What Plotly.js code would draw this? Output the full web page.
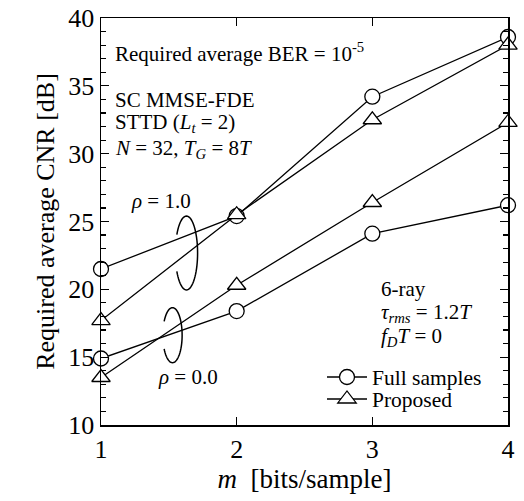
<!DOCTYPE html>
<html>
<head>
<meta charset="utf-8">
<script src="https://cdn.plot.ly/plotly-3.0.1.min.js"></script>
<style>html,body{margin:0;padding:0;background:#fff;}#chart{width:524px;height:501px;}</style>
</head>
<body>
<div id="chart"></div>
<script>
var m = [1, 2, 3, 4];
var fullRho1 = [21.5, 25.4, 34.2, 38.6];
var propRho1 = [17.7, 25.5, 32.5, 38.0];
var fullRho0 = [14.9, 18.4, 24.1, 26.2];
var propRho0 = [13.5, 20.3, 26.4, 32.3];
var seriesNames = ['Full samples', 'Proposed'];

var FONT = 'Liberation Serif';

function tr(y, sym, name, show, leg) {
  return {
    x: m, y: y, type: 'scatter', mode: 'lines+markers',
    name: name, showlegend: show, legend: leg,
    cliponaxis: false,
    line: {color: '#000', width: 1.3},
    marker: {symbol: sym, size: sym === 'circle' ? 15 : 16, color: '#fff', line: {color: '#000', width: 1.3}}
  };
}

var data = [
  tr(fullRho1, 'circle', seriesNames[0], true, 'legend'),
  tr(propRho1, 'triangle-up', seriesNames[1], true, 'legend2'),
  tr(fullRho0, 'circle', seriesNames[0], false, 'legend'),
  tr(propRho0, 'triangle-up', seriesNames[1], false, 'legend2')
];

function arcPath(cx, cy, rx, ry, a0, a1) {
  var p = '';
  var n = 60;
  for (var i = 0; i <= n; i++) {
    var a = (a0 + (a1 - a0) * i / n) * Math.PI / 180;
    var x = cx + rx * Math.cos(a), y = cy + ry * Math.sin(a);
    p += (i === 0 ? 'M ' : ' L ') + x.toFixed(4) + ',' + y.toFixed(4);
  }
  return p;
}

var shapes = [
  {type: 'path', xref: 'x', yref: 'y', path: arcPath(1.630, 22.68, 0.082, 2.72, 150, -150), line: {color: '#000', width: 1.5}},
  {type: 'path', xref: 'x', yref: 'y', path: arcPath(1.527, 16.62, 0.071, 2.03, 150, -150), line: {color: '#000', width: 1.5}}
];

function ann(text, x, y, size, anchor) {
  return {text: text, xref: 'paper', yref: 'paper', x: x, y: y, showarrow: false,
    xanchor: anchor || 'left', yanchor: 'middle', font: {family: FONT, size: size, color: '#000'}};
}
function px(xp) { return (xp - 101) / 407; }
function py(yp) { return (425 - yp) / 407; }

var AS = 21;
var annotations = [
  ann('Required average BER = 10<sup>-5</sup>', px(113), py(52), AS),
  ann('SC MMSE-FDE', px(113), py(100), AS),
  ann('STTD (<i>L<sub>t</sub></i> = 2)', px(113), py(123), AS),
  ann('<i>N</i> = 32, <i>T<sub>G</sub></i> = 8<i>T</i>', px(113), py(149), AS),
  ann('<i>ρ</i> = 1.0', px(129), py(201), AS),
  ann('<i>ρ</i> = 0.0', px(156), py(377), AS),
  ann('6-ray', px(379), py(289), AS),
  ann('<i>τ<sub>rms</sub></i> = 1.2<i>T</i>', px(379), py(313), AS),
  ann('<i>f<sub>D</sub>T</i> = 0', px(379), py(337), AS)
];

function leg(yp) {
  return {x: px(322), y: py(yp), xanchor: 'left', yanchor: 'middle', bgcolor: 'rgba(0,0,0,0)',
    font: {family: FONT, size: 21.5, color: '#000'}, itemwidth: 40};
}

var layout = {
  width: 524, height: 501,
  margin: {l: 101, r: 16, t: 18, b: 76},
  paper_bgcolor: '#fff', plot_bgcolor: '#fff',
  font: {family: FONT, color: '#000'},
  showlegend: true,
  legend: leg(377),
  legend2: leg(399),
  xaxis: {
    range: [1, 4], dtick: 1, tick0: 1, showgrid: false, zeroline: false,
    showline: true, linecolor: '#000', linewidth: 1.5, mirror: 'ticks',
    ticks: 'inside', ticklen: 8, tickwidth: 1.2, tickcolor: '#000',
    tickfont: {family: FONT, size: 26, color: '#000'},
    title: {text: '<i>m</i>  [bits/sample]', font: {family: FONT, size: 27, color: '#000'}, standoff: 6}
  },
  yaxis: {
    range: [10, 40], dtick: 5, tick0: 10, showgrid: false, zeroline: false,
    showline: true, linecolor: '#000', linewidth: 1.5, mirror: 'ticks',
    ticks: 'inside', ticklen: 8, tickwidth: 1.2, tickcolor: '#000',
    minor: {dtick: 1, ticks: 'inside', ticklen: 5, tickwidth: 1.2, tickcolor: '#000', showgrid: false},
    tickfont: {family: FONT, size: 26, color: '#000'},
    title: {text: 'Required average CNR [dB]', font: {family: FONT, size: 26, color: '#000'}, standoff: 6}
  },
  shapes: shapes,
  annotations: annotations
};

Plotly.newPlot('chart', data, layout, {displayModeBar: false, staticPlot: true});
</script>
</body>
</html>
